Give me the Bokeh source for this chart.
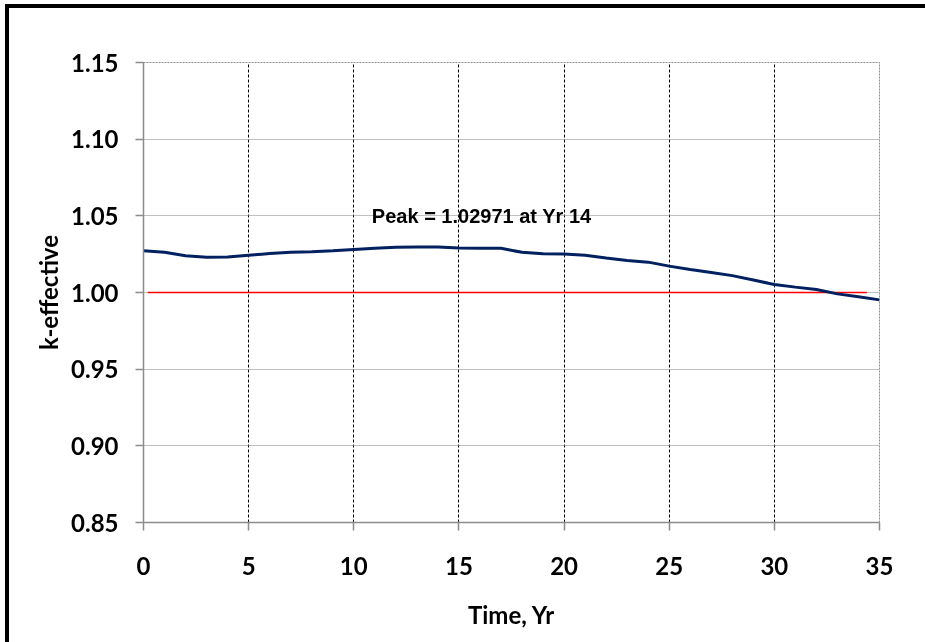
from bokeh.plotting import figure
from bokeh.models import FixedTicker, Label, ColumnDataSource, Spacer
from bokeh.layouts import column, row
from bokeh.embed import file_html
from bokeh.resources import INLINE

# ---- data ----
years = list(range(0, 36))
k_eff = [1.0272, 1.0262, 1.0240, 1.0230, 1.0231, 1.0243, 1.0254, 1.0262, 1.0265, 1.0272,
         1.0280, 1.0288, 1.0295, 1.0297, 1.02971, 1.0290, 1.0289, 1.0288, 1.0262, 1.0252,
         1.0251, 1.0243, 1.0225, 1.0209, 1.0198, 1.0172, 1.0150, 1.0130, 1.0110, 1.0082,
         1.0052, 1.0035, 1.0020, 0.9991, 0.9972, 0.9952]
limit_x = [0.2, 34.4]
limit_y = [1.0, 1.0]
x_ticks = [0, 5, 10, 15, 20, 25, 30, 35]
y_ticks = [0.85, 0.90, 0.95, 1.00, 1.05, 1.10, 1.15]
y_tick_labels = {0.85: "0.85", 0.90: "0.90", 0.95: "0.95", 1.00: "1.00", 1.05: "1.05", 1.10: "1.10", 1.15: "1.15"}
peak_text = "Peak = 1.02971 at Yr 14"
peak_label_pos = (10.86, 1.0502)

p = figure(width=919, height=634, x_range=(0, 35), y_range=(0.85, 1.15),
           output_backend="svg", toolbar_location=None,
           min_border_left=134, min_border_top=54, min_border_right=49, min_border_bottom=120)

p.outline_line_color = "#8c8c8c"
p.outline_line_dash = "2 1"
p.background_fill_color = "white"
p.border_fill_color = "white"

# grids
p.xgrid.ticker = FixedTicker(ticks=[5, 10, 15, 20, 25, 30])
p.xgrid.grid_line_color = "black"
p.xgrid.grid_line_dash = "3 2"
p.xgrid.grid_line_width = 1
p.ygrid.ticker = FixedTicker(ticks=y_ticks)
p.ygrid.grid_line_color = "#808080"
p.ygrid.grid_line_dash = "1 1"
p.ygrid.grid_line_width = 1

# axes
for ax in (p.xaxis[0], p.yaxis[0]):
    ax.axis_line_color = "#8c8c8c"
    ax.axis_line_width = 1.5
    ax.major_tick_line_color = "#8c8c8c"
    ax.major_tick_line_width = 1.5
    ax.major_tick_out = 8
    ax.major_tick_in = 0
    ax.minor_tick_line_color = None
    ax.major_label_text_font = "Lato"
    ax.major_label_text_font_style = "bold"
    ax.major_label_text_font_size = "24px"
    ax.major_label_text_color = "black"
    ax.axis_label_text_font = "Lato"
    ax.axis_label_text_font_style = "bold"
    ax.axis_label_text_font_size = "24px"
    ax.axis_label_text_color = "black"

p.xaxis[0].ticker = FixedTicker(ticks=x_ticks)
p.yaxis[0].ticker = FixedTicker(ticks=y_ticks)
p.yaxis[0].major_label_overrides = y_tick_labels
p.xaxis[0].axis_label = "Time, Yr"
p.yaxis[0].axis_label = "k-effective"
p.xaxis[0].major_label_standoff = 26
p.yaxis[0].major_label_standoff = 17
p.xaxis[0].axis_label_standoff = 22
p.yaxis[0].axis_label_standoff = 5

# series
p.line(limit_x, limit_y, line_color="#ff0000", line_width=1.5)
src = ColumnDataSource(data=dict(x=years, y=k_eff))
p.line("x", "y", source=src, line_color="#002060", line_width=3)

p.add_layout(Label(x=peak_label_pos[0], y=peak_label_pos[1], text=peak_text,
                   text_font="Liberation Sans", text_font_style="bold",
                   text_font_size="20px", text_color="black", text_baseline="alphabetic"))

top_bar = Spacer(width=923, height=4, styles={"background-color": "black"})
left_bar = Spacer(width=4, height=634, styles={"background-color": "black"})
layout = column(top_bar, row(left_bar, p, spacing=0), spacing=0,
                styles={"position": "fixed", "left": "5px", "top": "4px"})

open("out.html", "w").write(file_html(layout, INLINE))
